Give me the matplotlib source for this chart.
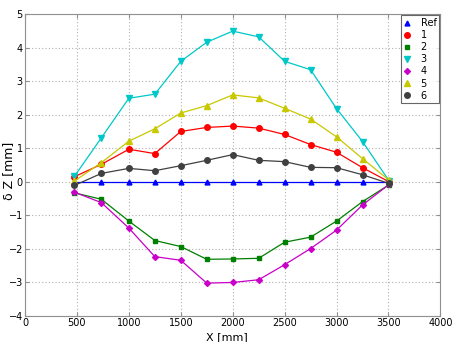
import matplotlib
matplotlib.use("Agg")
import matplotlib.pyplot as plt
from matplotlib.lines import Line2D

x = [475, 735, 1000, 1250, 1500, 1750, 2000, 2250, 2500, 2750, 3000, 3250, 3505]
ref = [0, 0, 0, 0, 0, 0, 0, 0, 0, 0, 0, 0, 0]
s1 = [0.15, 0.52, 0.97, 0.84, 1.50, 1.62, 1.66, 1.60, 1.41, 1.11, 0.88, 0.42, 0.0]
s2 = [-0.33, -0.52, -1.17, -1.75, -1.93, -2.31, -2.30, -2.28, -1.80, -1.65, -1.17, -0.59, -0.09]
s3 = [0.16, 1.31, 2.49, 2.61, 3.59, 4.16, 4.49, 4.32, 3.59, 3.34, 2.18, 1.20, 0.03]
s4 = [-0.31, -0.62, -1.38, -2.23, -2.34, -3.02, -3.00, -2.92, -2.47, -1.99, -1.44, -0.69, -0.08]
s5 = [0.02, 0.57, 1.21, 1.58, 2.05, 2.27, 2.59, 2.50, 2.19, 1.87, 1.34, 0.69, 0.05]
s6 = [-0.11, 0.25, 0.40, 0.33, 0.48, 0.64, 0.81, 0.64, 0.60, 0.43, 0.42, 0.21, -0.05]

labels = ["Ref", "1", "2", "3", "4", "5", "6"]
series = [ref, s1, s2, s3, s4, s5, s6]
colors = ["#0000ff", "#ff0000", "#008000", "#00c8c8", "#c800c8", "#c8c800", "#404040"]
markers = ["^", "o", "s", "v", "D", "^", "o"]
msizes = [3.5, 4, 3, 4, 3, 4, 4]

fig = plt.figure(figsize=(4.53, 3.42), dpi=100)
ax = fig.add_axes([0.0552, 0.076, 0.917, 0.883])

for ys, c, m, ms, lab in zip(series, colors, markers, msizes, labels):
    ax.plot(x, ys, color=c, marker=m, markersize=ms, linewidth=0.9, label=lab)

ax.set_xlim(0, 4000)
ax.set_ylim(-4, 5)
ax.set_xticks(range(0, 4001, 500))
ax.set_yticks(range(-4, 6))
ax.grid(True, linestyle=(0, (1, 2)), color="#b0b0b0", linewidth=0.8)
for sp in ax.spines.values():
    sp.set_color("#909090")
ax.tick_params(direction="in", top=True, right=True, labelsize=7, color="#909090", length=3, pad=1.5)

fig.text(0.5, 0.0, "X [mm]", fontsize=8, ha="center", va="bottom")
fig.text(0.004, 0.5, "δ Z [mm]", fontsize=9, ha="left", va="center", rotation=90)

handles = [Line2D([], [], linestyle="none", marker=m, color=c, markersize=ms)
           for c, m, ms in zip(colors, markers, msizes)]
leg = ax.legend(handles, labels, loc="upper right", fontsize=7, frameon=True, fancybox=False,
                edgecolor="#404040", handlelength=0.8, handletextpad=1.0, labelspacing=0.22,
                borderpad=0.25, borderaxespad=0.15, markerfirst=True)
for t in leg.get_texts():
    t.set_ha("right")
leg.get_frame().set_linewidth(0.8)

fig.savefig("out.png", dpi=100)
